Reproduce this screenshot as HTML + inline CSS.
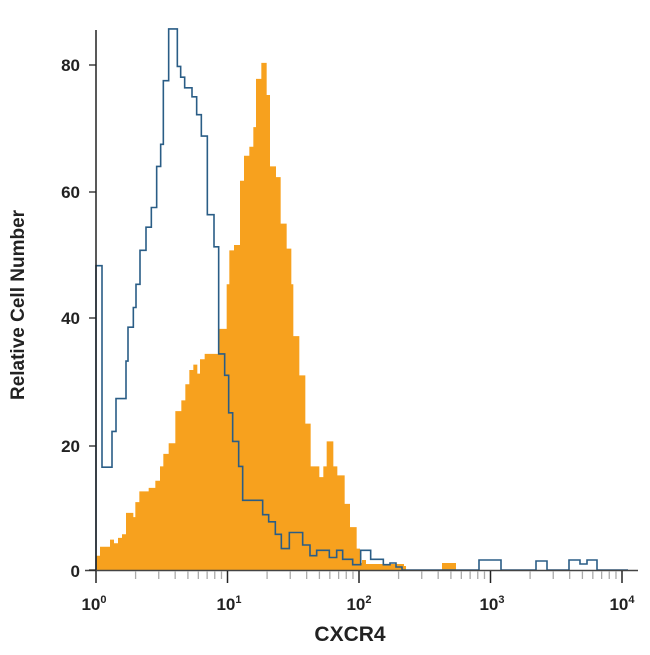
<!DOCTYPE html>
<html><head><style>
body{margin:0;background:#fff}
svg text{font-family:"Liberation Sans Narrow","Liberation Sans",sans-serif;fill:#222}
</style></head><body>
<svg width="650" height="650" viewBox="0 0 650 650" xmlns="http://www.w3.org/2000/svg">
<g id="orange"></g>
<g id="blue"></g>
<g id="axes"></g>
<text x="350" y="641" text-anchor="middle" font-size="21" font-weight="bold">CXCR4</text>
<text transform="translate(24,305) rotate(-90)" text-anchor="middle" font-size="19" font-weight="bold">Relative Cell Number</text>
<g font-size="17" font-weight="bold" text-anchor="end">
<text x="80" y="71">80</text><text x="80" y="198">60</text><text x="80" y="324">40</text><text x="80" y="452">20</text><text x="80" y="577">0</text>
</g>
<g font-size="17" font-weight="bold" text-anchor="middle">
<text x="94" y="610">10<tspan font-size="11" dy="-7">0</tspan></text>
<text x="229" y="610">10<tspan font-size="11" dy="-7">1</tspan></text>
<text x="359" y="610">10<tspan font-size="11" dy="-7">2</tspan></text>
<text x="492" y="610">10<tspan font-size="11" dy="-7">3</tspan></text>
<text x="622" y="610">10<tspan font-size="11" dy="-7">4</tspan></text>
</g>
</svg>
<script>
const ns="http://www.w3.org/2000/svg";
function step(pts,base){let d=`M${pts[0][0]},${base}`;let py=base;for(let i=0;i<pts.length;i++){const [x,y]=pts[i];d+=`L${x},${py}L${x},${y}`;py=y;}return d;}
const toX=z=>90+z/3, toY=z=>20+z/2.8;
const O=[[18,1500],[30,1475],[60,1455],[72,1465],[84,1450],[96,1440],[108,1380],[130,1392],[136,1350],[148,1320],[176,1310],[196,1290],[210,1250],[220,1215],[236,1185],[256,1095],[274,1065],[286,1020],[298,980],[310,965],[322,990],[330,950],[344,935],[388,865],[410,740],[418,645],[432,630],[450,450],[462,380],[478,355],[490,300],[498,165],[514,120],[530,210],[540,410],[558,440],[572,570],[590,640],[604,740],[610,885],[628,995],[646,1130],[662,1250],[688,1280],[700,1250],[710,1180],[730,1250],[742,1275],[764,1355],[780,1420],[800,1480],[810,1520]].map(p=>[toX(p[0]),toY(p[1])]);
O.push([362,560],[366,564],[404,566],[406,570],[440,570],[442,563],[454,563],[456,570]);
let od=step(O,570)+"Z";
const op=document.createElementNS(ns,"path");op.setAttribute("d",od);op.setAttribute("fill","#f7a11e");document.getElementById("orange").appendChild(op);
const B=[[18,688],[36,1252],[66,1152],[78,1060],[108,955],[114,860],[130,805],[138,740],[150,645],[168,580],[184,525],[200,410],[212,348],[220,170],[236,25],[262,130],[272,160],[284,190],[306,215],[320,265],[334,325],[352,545],[372,635],[386,935],[404,995],[416,1100],[428,1180],[446,1250],[458,1345],[518,1385],[536,1405],[556,1440],[574,1480],[598,1435],[638,1470],[660,1500],[680,1485],[718,1505],[740,1485],[758,1510],[788,1525],[812,1485],[842,1510],[880,1525]].map(p=>[toX(p[0]),toY(p[1])]);
B.push([390,563],[396,567],[402,570],[477,570],[479,560],[499,560],[501,570],[534,570],[536,561],[545,561],[547,570],[567,570],[569,560],[578,560],[580,564],[585,564],[587,560],[595,560],[597,570],[628,570]);
const bp=document.createElementNS(ns,"path");bp.setAttribute("d",step(B,570));bp.setAttribute("fill","none");bp.setAttribute("stroke","#2a5d86");bp.setAttribute("stroke-width","1.6");document.getElementById("blue").appendChild(bp);
let ax=`<line x1="96" y1="30" x2="96" y2="571" stroke="#222" stroke-width="1.5"/><line x1="85" y1="570.5" x2="638" y2="570.5" stroke="#444" stroke-width="1.5"/>`;
[65,192,318,446,570].forEach(y=>ax+=`<line x1="89" y1="${y}" x2="96" y2="${y}" stroke="#222" stroke-width="1.3"/>`);
for(let d=0;d<4;d++)for(let k=1;k<=10;k++){const x=96+131.5*(d+Math.log10(k));if(k==1&&d>0)continue;const big=(k==1||k==10);ax+=`<line x1="${x}" y1="571" x2="${x}" y2="${big?583:579}" stroke="${big?'#222':'#aaa'}" stroke-width="${big?1.5:1.3}"/>`;}
document.getElementById("axes").innerHTML=ax;
</script>
</body></html>
